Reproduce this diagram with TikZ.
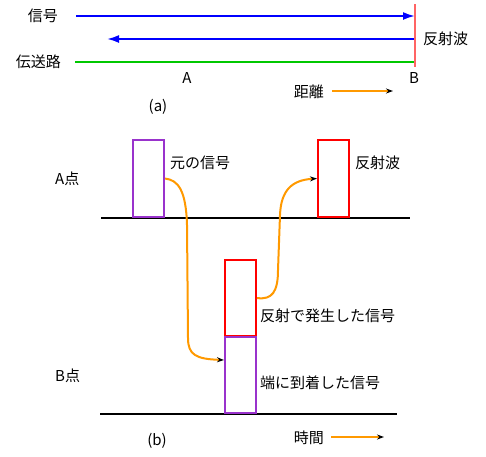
\documentclass[tikz,border=0pt]{standalone}
\usepackage{fontspec}
\setmainfont{Noto Sans CJK JP}
\usetikzlibrary{arrows.meta}
\definecolor{sigblue}{RGB}{0,0,255}
\definecolor{linegreen}{RGB}{0,200,0}
\definecolor{pinkred}{RGB}{255,100,100}
\definecolor{boxpurple}{RGB}{153,51,204}
\definecolor{boxred}{RGB}{255,0,0}
\definecolor{curveorange}{RGB}{255,153,0}
\tikzset{
  lbl/.style={inner sep=0pt, font=\fontsize{15}{17}\selectfont},
  pulse/.style={draw, line width=2pt, minimum width=31pt, minimum height=77pt, inner sep=0pt, anchor=south west},
  base/.style={line width=2pt, black},
  bluearrow/.style={line width=2pt, sigblue, -{Latex[length=12pt,width=8pt]}},
  orangearrow/.style={line width=2pt, curveorange, -{Stealth[black,length=7pt,width=5pt]}},
}
\begin{document}
\begin{tikzpicture}[x=1pt,y=-1pt]
\useasboundingbox (0,0) rectangle (486,456);
% ---- (a) ----
\node[lbl, anchor=east] (sig) at (58,16) {信号};
\node[lbl, anchor=east] (line) at (61,62) {伝送路};
\node[lbl, anchor=west] (refl) at (423,39) {反射波};
\node[lbl] (A) at (187,78) {A};
\node[lbl] (B) at (414,78) {B};
\node[lbl, anchor=east] (dist) at (324,92) {距離};
\node[lbl] (a) at (158,107) {(a)};
\coordinate (s1) at (76,16);
\coordinate (e1) at (415,16);
\coordinate (s2) at (415,39);
\coordinate (e2) at (107,39);
\coordinate (g1) at (75,62);
\coordinate (g2) at (415,62);
\coordinate (rt) at (415,4);
\coordinate (rb) at (415,67);
\coordinate (d1) at (332,91);
\coordinate (d2) at (393,91);
\draw[bluearrow] (s1) -- (e1);
\draw[bluearrow] (s2) -- (e2);
\draw[line width=2pt, linegreen] (g1) -- (g2);
\draw[line width=2pt, pinkred] (rt) -- (rb);
\draw[orangearrow] (d1) -- (d2);
% ---- (b) ----
\node[lbl, anchor=west] (Apt) at (55,179) {A点};
\node[lbl, anchor=west] (Bpt) at (55,376) {B点};
\coordinate (ba1) at (101,218);
\coordinate (ba2) at (410,218);
\coordinate (bb1) at (100,414);
\coordinate (bb2) at (397,414);
\draw[base] (ba1) -- (ba2);
\draw[base] (bb1) -- (bb2);
\node[pulse, boxpurple] (p1) at (132,218) {};
\node[pulse, boxred] (r1) at (317,218) {};
\node[pulse, boxred, minimum height=76pt] (r2) at (224,337) {};
\node[pulse, boxpurple, minimum height=76pt] (p2) at (224,414) {};
\node[lbl, anchor=west] (t1) at (170,163) {元の信号};
\node[lbl, anchor=west] (t2) at (355,163) {反射波};
\node[lbl, anchor=west] (t3) at (260,316) {反射で発生した信号};
\node[lbl, anchor=west] (t4) at (260,383) {端に到着した信号};
\node[lbl] (b) at (157,441) {(b)};
\node[lbl, anchor=east] (time) at (324,438) {時間};
\coordinate (h1) at (331,437);
\coordinate (h2) at (384,437);
\draw[orangearrow] (h1) -- (h2);
\coordinate (p2in) at (224,360);
\draw[orangearrow] (p1.east) .. controls (178,180) and (186,190) .. (187,225) -- (188,338) .. controls (188,355) and (196,359) .. (p2in);
\draw[orangearrow] (r2.east) .. controls (272,300) and (278,292) .. (278,270) -- (280,215) .. controls (281,190) and (292,180) .. (r1.west);
\end{tikzpicture}
\end{document}
